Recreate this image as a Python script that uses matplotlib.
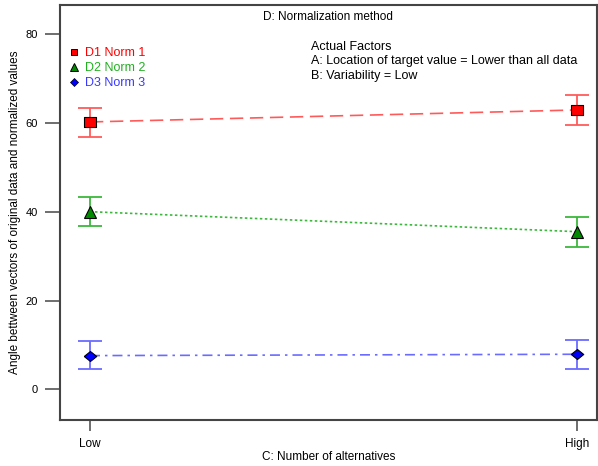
import matplotlib.pyplot as plt
from matplotlib.lines import Line2D

plt.rcParams['font.family'] = ['Liberation Sans', 'DejaVu Sans']

# Data
levels = ["Low", "High"]
x = [0, 1]
norm1 = [60.2, 62.9]
norm1_lo = [56.9, 59.5]
norm1_hi = [63.4, 66.2]
norm2 = [40.0, 35.5]
norm2_lo = [36.8, 32.1]
norm2_hi = [43.3, 38.8]
norm3 = [7.6, 7.9]
norm3_lo = [4.5, 4.6]
norm3_hi = [10.9, 11.1]
yticks = [0, 20, 40, 60, 80]

fig = plt.figure(figsize=(5.98, 4.66), dpi=100)
ax = fig.add_axes([0.1003, 0.0987, 0.8977, 0.8903])

# wide rectangle / diamond markers like the original
rect = [(-1.35, -1), (1.35, -1), (1.35, 1), (-1.35, 1), (-1.35, -1)]
diam = [(-1.25, 0), (0, 1), (1.25, 0), (0, -1), (-1.25, 0)]

series = [
    (norm1, norm1_lo, norm1_hi, "#ff5a5a", "#ff0000", rect, 9, (0, (8, 4))),
    (norm2, norm2_lo, norm2_hi, "#3cb83c", "#008a00", "^", 9, (0, (1.5, 1.5))),
    (norm3, norm3_lo, norm3_hi, "#6b6bff", "#0000ff", diam, 9, (0, (6, 3, 1.5, 3))),
]

for vals, lo, hi, lc, mc, mk, ms, ls in series:
    err = [[v - l for v, l in zip(vals, lo)], [h - v for v, h in zip(vals, hi)]]
    ax.errorbar(x, vals, yerr=err, fmt="none", ecolor=lc, elinewidth=1.3,
                capsize=8.3, capthick=1.3, zorder=2)
    ax.plot(x, vals, color=lc, lw=1.2, linestyle=ls, zorder=2)
    ax.plot(x, vals, linestyle="none", marker=mk, markersize=ms,
            markerfacecolor=mc, markeredgecolor="black", markeredgewidth=0.8, zorder=3)

ax.set_xlim(-0.0616, 1.041)
ax.set_ylim(-6.9, 86.5)
ax.set_xticks(x)
ax.set_xticklabels(levels)
ax.set_yticks(yticks)
ax.tick_params(axis="y", direction="out", length=11, width=1.2, color="#555555",
               labelsize=8, pad=5)
ax.tick_params(axis="x", direction="out", length=8, width=1.2, color="#555555",
               labelsize=8.5, pad=5)
for s in ax.spines.values():
    s.set_color("#444444")
    s.set_linewidth(1.5)

ax.set_xlabel("C: Number of alternatives", fontsize=8.5, labelpad=1)
ax.set_ylabel("Angle bettween vectors of original data and normalized values",
              fontsize=8.5, labelpad=3)

ax.text(0.5, 0.985, "D: Normalization method", transform=ax.transAxes,
        ha="center", va="top", fontsize=8.5)
ax.text(0.468, 0.913, "Actual Factors\nA: Location of target value = Lower than all data\nB: Variability = Low",
        transform=ax.transAxes, ha="left", va="top", fontsize=9, linespacing=1.25)

handles = [
    Line2D([], [], linestyle="none", marker="s", markersize=5, markerfacecolor="#ff0000", markeredgecolor="black", markeredgewidth=0.7),
    Line2D([], [], linestyle="none", marker="^", markersize=6, markerfacecolor="#008a00", markeredgecolor="black", markeredgewidth=0.7),
    Line2D([], [], linestyle="none", marker="D", markersize=4, markerfacecolor="#0000ff", markeredgecolor="black", markeredgewidth=0.5),
]
ax.legend(handles, ["D1 Norm 1", "D2 Norm 2", "D3 Norm 3"], loc="upper left",
          bbox_to_anchor=(0.0, 0.92), frameon=False, fontsize=9, handlelength=0.8,
          handletextpad=0.5, labelspacing=0.25, borderaxespad=0.3,
          labelcolor=["#ff0000", "#22b022", "#3a3aff"])

fig.savefig("out.png", dpi=100)
